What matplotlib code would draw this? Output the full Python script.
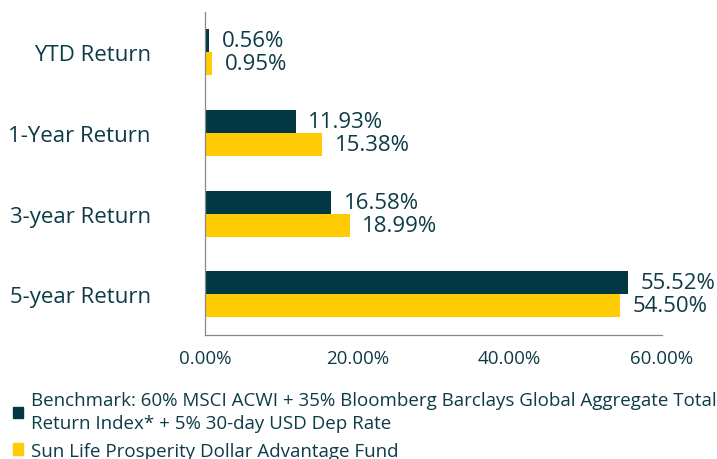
import numpy as np
import matplotlib.pyplot as plt
from matplotlib.patches import Patch

plt.rcParams['font.family'] = ['Open Sans', 'DejaVu Sans']

categories = ['YTD Return', '1-Year Return', '3-year Return', '5-year Return']
benchmark = [0.56, 11.93, 16.58, 55.52]
fund = [0.95, 15.38, 18.99, 54.50]
xticks = [0, 20, 40, 60]
bench_name = ('Benchmark: 60% MSCI ACWI + 35% Bloomberg Barclays Global Aggregate Total\n'
              'Return Index* + 5% 30-day USD Dep Rate')
fund_name = 'Sun Life Prosperity Dollar Advantage Fund'

dark = '#023843'
yellow = '#ffcb05'
text_c = '#0d3b47'

fig = plt.figure(figsize=(7.17, 4.6), dpi=100)
ax = fig.add_axes([0.286, 0.270, 0.637, 0.702])

y = np.arange(len(categories))
h = 0.285
ax.barh(y - h / 2, benchmark, height=h, color=dark)
ax.barh(y + h / 2, fund, height=h, color=yellow)

for i in range(len(categories)):
    ax.annotate('%.2f%%' % benchmark[i], (benchmark[i], y[i] - h / 2),
                xytext=(9, 0), textcoords='offset points',
                va='center', ha='left', fontsize=16, color=text_c)
    ax.annotate('%.2f%%' % fund[i], (fund[i], y[i] + h / 2),
                xytext=(9, 0), textcoords='offset points',
                va='center', ha='left', fontsize=16, color=text_c)

ax.set_ylim(3.5, -0.5)
ax.set_xlim(0, 60)
ax.set_yticks(y)
ax.set_yticklabels(categories, fontsize=16, color=text_c)
ax.set_xticks(xticks)
ax.set_xticklabels(['%.2f%%' % v for v in xticks], fontsize=13.5, color=text_c)
ax.tick_params(length=0)
ax.tick_params(axis='y', pad=39)
ax.tick_params(axis='x', pad=10)
for s in ['top', 'right']:
    ax.spines[s].set_visible(False)
for s in ['left', 'bottom']:
    ax.spines[s].set_color('#888888')
    ax.spines[s].set_linewidth(0.9)

handles = [Patch(color=dark, label=bench_name), Patch(color=yellow, label=fund_name)]
leg = fig.legend(handles=handles, loc='lower left', bbox_to_anchor=(0.0, -0.03),
                 frameon=False, fontsize=13.5, handlelength=0.55, handleheight=0.55,
                 handletextpad=0.4, labelspacing=0.5, borderaxespad=0.3)
for t in leg.get_texts():
    t.set_color(text_c)
    t.set_linespacing(1.35)

fig.savefig('out.png', dpi=100)
